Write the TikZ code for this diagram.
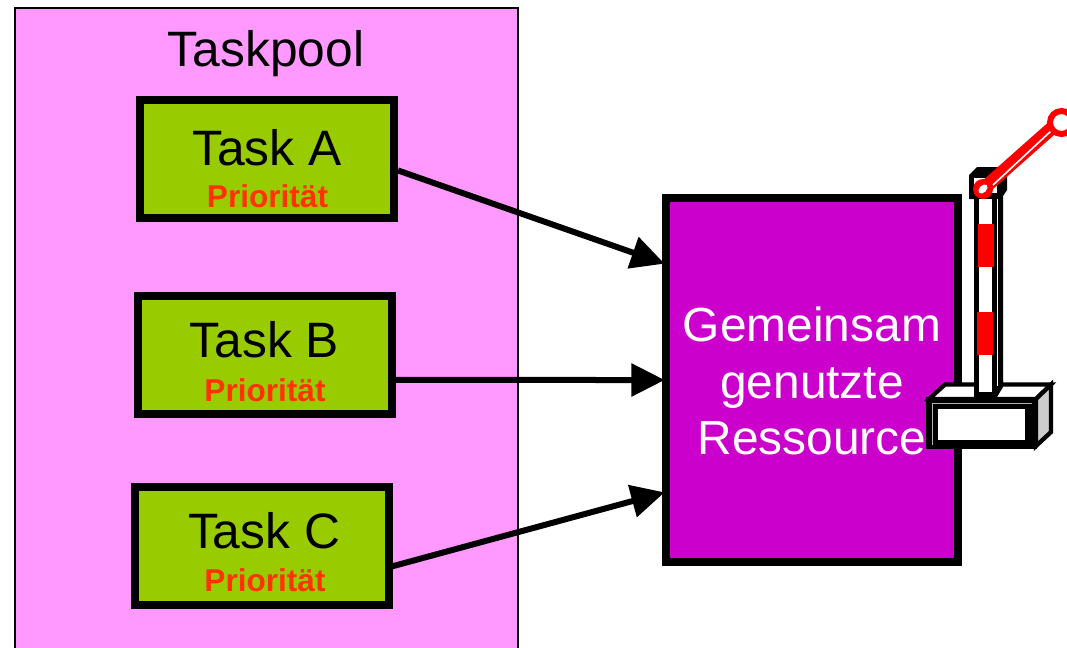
\documentclass[tikz,border=0pt]{standalone}
\usepackage{fontspec}
\setmainfont{Liberation Sans}
\usetikzlibrary{arrows.meta}
\tikzset{
 big/.style={font=\fontsize{37.3}{40}\selectfont},
 res/.style={font=\fontsize{35.9}{38}\selectfont,text=white},
 taskbox/.style={rectangle,draw,line width=6pt,fill=taskgreen,minimum width=190.5pt,minimum height=88.5pt,inner sep=0pt},
 prio/.style={font=\fontsize{23.7}{26}\selectfont\bfseries,text=prioorange},
 arrow/.style={draw,line width=4.5pt,shorten >=-2pt,-{Triangle[length=25pt,width=24pt]}},
 barpart/.style={draw,line width=3.2pt,line join=miter}
}
\definecolor{poolpink}{HTML}{FF99FF}
\definecolor{taskgreen}{HTML}{99CC00}
\definecolor{prioorange}{HTML}{FF3300}
\definecolor{respurple}{HTML}{CC00CC}
\begin{document}
\begin{tikzpicture}[x=0.75pt,y=-0.75pt]
\useasboundingbox (0,0) rectangle (1067,647);
\node [rectangle,draw,line width=1.5pt,fill=poolpink,minimum width=377.25pt,minimum height=489pt] (pool) at (266.5,334) {};
\node [big,anchor=base] (pooltitle) at (266,66) {Taskpool};
\node [taskbox] (taskA) at (267,159) {};
\node [big,anchor=base] (nameA) at (267,165) {Task A};
\node [prio,anchor=base] (prioA) at (267.5,207) {Priorität};
\node [taskbox] (taskB) at (264.5,354.5) {};
\node [big,anchor=base] (nameB) at (264.5,357) {Task B};
\node [prio,anchor=base] (prioB) at (265,401) {Priorität};
\node [taskbox] (taskC) at (261.5,545.5) {};
\node [big,anchor=base] (nameC) at (264,548) {Task C};
\node [prio,anchor=base] (prioC) at (265,591) {Priorität};
\node [rectangle,draw,line width=6pt,fill=respurple,minimum width=219pt,minimum height=273pt] (res) at (812,380) {};
\node [res,anchor=base] (resA) at (812,341) {Gemeinsam};
\node [res,anchor=base] (resB) at (812,398) {genutzte};
\node [res,anchor=base] (resC) at (812,454) {Ressource};
\draw [arrow] (taskA.-5.7) -- (res.142.5);
\draw [arrow] (taskB.-11.4) -- (res.180.4);
\draw [arrow] (taskC.-9.7) -- (res.217.5);
\fill (969,175) -- (977,167) -- (1007,167) -- (1007,190) -- (1003,196) -- (1003,395) -- (1000,397) -- (974,397) -- (974,199) -- (969,199) -- cycle;
\fill [white] (974,178) rectangle (997,193);
\fill [white] (979,199) rectangle (992,392);
\fill [white] (997,199) rectangle (998,380);
\fill [red] (978,224) rectangle (994,267);
\fill [red] (977,312) rectangle (993,355);
\draw [barpart,fill=white] (929,399) -- (945,384.5) -- (1051,384.5) -- (1036,399) -- cycle;
\draw [barpart,fill=black!20] (1036,399) -- (1051,384.5) -- (1051,432) -- (1036,446) -- cycle;
\fill (974,380) -- (1003,380) -- (1003,387) -- (997,397) -- (974,397) -- cycle;
\fill [white] (979,380) rectangle (992,392);
\fill [white] (997,380) rectangle (998,386);
\fill (926,397) rectangle (1037,449);
\draw [black!30,line width=0.75pt] (932,445) -- (932,403) -- (1032,403);
\fill [white] (938,409) rectangle (1025,440);
\draw [red,line width=10pt] (983,189) -- (1053,127);
\draw [white,line width=1.2pt] (993,185) -- (1051,131);
\draw [red,line width=4.5pt,fill=white] (1061.5,122.5) circle (11.5);
\fill [red] (983,189) circle (10);
\fill [white,rotate around={45:(983,189)}] (983,189) circle [x radius=5.5,y radius=3.5];
\end{tikzpicture}
\end{document}
